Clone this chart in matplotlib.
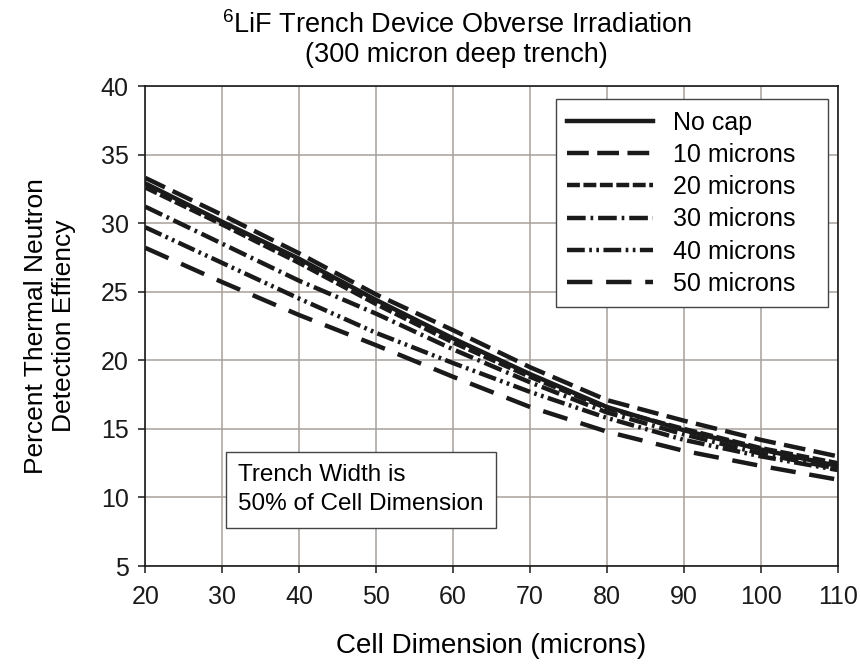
import matplotlib
matplotlib.use('Agg')
import matplotlib.pyplot as plt

plt.rcParams['font.family'] = ['Liberation Sans', 'DejaVu Sans']
plt.rcParams['mathtext.fontset'] = 'custom'
plt.rcParams['mathtext.rm'] = 'Liberation Sans'
plt.rcParams['mathtext.it'] = 'Liberation Sans'

# Cell dimension (microns)
cell = [20, 30, 40, 50, 60, 70, 80, 90, 100, 110]

# Detection efficiency (%) per cap thickness
no_cap = [32.9, 30.1, 27.4, 24.4, 21.6, 19.0, 16.6, 14.9, 13.5, 12.3]
cap10 = [33.3, 30.6, 27.8, 24.8, 22.2, 19.5, 17.1, 15.6, 14.2, 13.0]
cap20 = [32.6, 29.9, 27.1, 24.1, 21.3, 18.8, 16.5, 15.0, 13.6, 12.5]
cap30 = [31.2, 28.5, 25.8, 23.4, 20.8, 18.4, 16.2, 14.6, 13.2, 12.1]
cap40 = [29.7, 27.1, 24.5, 22.0, 19.8, 17.7, 15.8, 14.2, 13.0, 12.0]
cap50 = [28.2, 25.7, 23.3, 21.1, 18.8, 16.6, 14.8, 13.4, 12.3, 11.3]

labels = ['No cap', '10 microns', '20 microns', '30 microns', '40 microns', '50 microns']
series = [no_cap, cap10, cap20, cap30, cap40, cap50]

# dash patterns (scaled by line width)
styles = [
    None,
    (0, (4.9, 1.9)),
    (0, (2.9, 0.8)),
    (0, (4.2, 1.1, 0.6, 1.1)),
    (0, (4.0, 1.0, 0.6, 1.0, 0.6, 1.0)),
    (0, (5.7, 3.1)),
]

fig = plt.figure(figsize=(8.6, 6.67), dpi=100)
ax = fig.add_axes([0.169, 0.1514, 0.805, 0.7196])

for y, lab, ls in zip(series, labels, styles):
    # trailing spaces widen the legend box on the right like the original
    if ls is None:
        ax.plot(cell, y, color='#1a1a1a', lw=3.2, label=lab + '   ')
    else:
        ax.plot(cell, y, color='#1a1a1a', lw=3.2, linestyle=ls,
                dash_capstyle='butt', label=lab + '   ')

ax.set_xlim(20, 110)
ax.set_ylim(5, 40)
ax.set_xticks(range(20, 111, 10))
ax.set_yticks(range(5, 41, 5))
ax.grid(True, color='#a8a09c', lw=1.1)
ax.set_axisbelow(True)
for s in ax.spines.values():
    s.set_color('#1a1a1a')
    s.set_linewidth(1.2)
ax.tick_params(direction='out', length=5, width=1.1, labelsize=18, colors='#1a1a1a')
ax.tick_params(axis='x', pad=9)
ax.tick_params(axis='y', pad=7)

ax.set_xlabel('Cell Dimension (microns)', fontsize=20, labelpad=17)
ax.set_ylabel('Percent Thermal Neutron\nDetection Effiency', fontsize=19, labelpad=18)

fig.text(0.531, 0.962, '$^6$LiF Trench Device Obverse Irradiation', ha='center',
         va='center', fontsize=19.5)
fig.text(0.531, 0.917, '(300 micron deep trench)', ha='center', va='center', fontsize=19.5)

leg = ax.legend(loc='upper right', bbox_to_anchor=(0.986, 0.972), borderaxespad=0,
                fontsize=18, handlelength=3.45, labelspacing=0.33, borderpad=0.45,
                handletextpad=0.8, fancybox=False, framealpha=1)
leg.get_frame().set_edgecolor('#444444')
leg.get_frame().set_linewidth(1.0)

ax.text(0.134, 0.212, 'Trench Width is\n50% of Cell Dimension', transform=ax.transAxes,
        fontsize=17.5, va='top', ha='left', linespacing=1.42,
        bbox=dict(boxstyle='square,pad=0.5', fc='white', ec='#444444', lw=1.0))

fig.savefig('out.png', dpi=100)
